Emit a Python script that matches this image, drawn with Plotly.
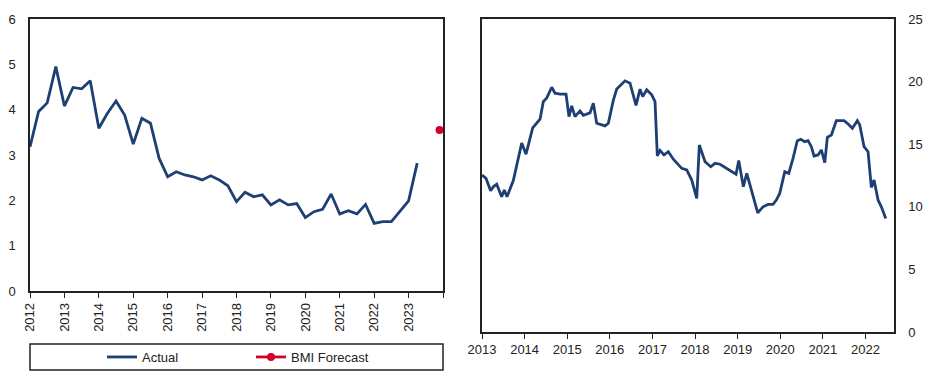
import plotly.graph_objects as go

# ---------------- data ----------------
# Left panel: quarterly actual values, 2012Q1 .. 2023Q2
left_start_year = 2012
left_actual = [3.18, 3.96, 4.15, 4.95, 4.08, 4.49, 4.46, 4.64, 3.59, 3.92,
               4.19, 3.88, 3.24, 3.81, 3.70, 2.93, 2.52, 2.63, 2.56, 2.52,
               2.45, 2.54, 2.45, 2.32, 1.97, 2.18, 2.08, 2.12, 1.90, 2.01,
               1.90, 1.93, 1.62, 1.75, 1.80, 2.14, 1.70, 1.77, 1.70, 1.91,
               1.49, 1.53, 1.53, 1.75, 1.99, 2.82]
left_x = [left_start_year + 0.25 * i for i in range(len(left_actual))]
forecast_x = [2023.9]
forecast_y = [3.55]
left_tickvals = list(range(2012, 2025))
left_ticktext = [str(y) for y in range(2012, 2024)] + [""]

# Right panel: (decimal year, value)
right_x = [2013.000, 2013.094, 2013.204, 2013.265, 2013.345, 2013.462, 2013.523, 2013.587,
           2013.735, 2013.932, 2014.033, 2014.190, 2014.362, 2014.439, 2014.520, 2014.636,
           2014.714, 2014.831, 2014.972, 2015.042, 2015.106, 2015.183, 2015.300, 2015.378,
           2015.535, 2015.613, 2015.692, 2015.887, 2015.965, 2016.082, 2016.162, 2016.357,
           2016.474, 2016.615, 2016.709, 2016.772, 2016.866, 2016.984, 2017.061, 2017.115,
           2017.178, 2017.272, 2017.373, 2017.491, 2017.688, 2017.805, 2017.923, 2018.040,
           2018.101, 2018.235, 2018.369, 2018.469, 2018.587, 2018.744, 2018.899, 2018.962,
           2019.026, 2019.134, 2019.214, 2019.330, 2019.472, 2019.526, 2019.596, 2019.714,
           2019.831, 2019.908, 2019.988, 2020.106, 2020.200, 2020.300, 2020.401, 2020.481,
           2020.575, 2020.653, 2020.730, 2020.793, 2020.887, 2020.965, 2021.045, 2021.106,
           2021.200, 2021.317, 2021.498, 2021.575, 2021.693, 2021.810, 2021.866, 2021.967,
           2022.061, 2022.138, 2022.202, 2022.296, 2022.373, 2022.477]
right_y = [12.54, 12.27, 11.28, 11.60, 11.80, 10.80, 11.34, 10.80,
           12.10, 15.10, 14.20, 16.30, 17.00, 18.40, 18.70, 19.55,
           19.07, 19.00, 19.00, 17.20, 18.06, 17.20, 17.66, 17.30,
           17.50, 18.27, 16.67, 16.46, 16.67, 18.50, 19.40, 20.06,
           19.87, 18.10, 19.40, 18.80, 19.34, 18.94, 18.40, 14.06,
           14.50, 14.14, 14.40, 13.80, 13.07, 12.94, 12.14, 10.67,
           14.94, 13.60, 13.20, 13.47, 13.40, 13.07, 12.72, 12.60,
           13.70, 11.60, 12.67, 11.33, 9.52, 9.74, 10.00, 10.19,
           10.19, 10.54, 11.07, 12.80, 12.67, 13.87, 15.28, 15.39,
           15.20, 15.28, 14.80, 14.06, 14.14, 14.54, 13.52, 15.55,
           15.74, 16.88, 16.88, 16.67, 16.27, 16.88, 16.54, 14.80,
           14.40, 11.55, 12.14, 10.54, 10.00, 9.07]
right_tickvals = list(range(2013, 2023))
right_ticktext = [str(y) for y in range(2013, 2023)]

# ---------------- styling ----------------
W, H = 931, 377
NAVY = "#1d3f73"
RED = "#d4002a"
FONT = "Liberation Sans, Arial, sans-serif"
TXT = "#222222"

def px_x(p):
    return p / W

def px_y(p):
    return 1 - p / H

fig = go.Figure()

fig.add_trace(go.Scatter(x=left_x, y=left_actual, mode="lines", name="Actual",
                         line=dict(color=NAVY, width=2.8), xaxis="x", yaxis="y"))
fig.add_trace(go.Scatter(x=forecast_x, y=forecast_y, mode="lines+markers", name="BMI Forecast",
                         line=dict(color=RED, width=2.8), marker=dict(color=RED, size=8),
                         xaxis="x", yaxis="y", cliponaxis=False))
fig.add_trace(go.Scatter(x=right_x, y=right_y, mode="lines", showlegend=False,
                         line=dict(color=NAVY, width=2.8), xaxis="x2", yaxis="y2"))

axis_common = dict(showgrid=False, zeroline=False, showline=True, linecolor="#222222",
                   linewidth=1.5, mirror=True, automargin=False,
                   tickfont=dict(family=FONT, size=13, color=TXT))

fig.update_layout(
    width=W, height=H,
    margin=dict(l=0, r=0, t=0, b=0, autoexpand=False),
    paper_bgcolor="white", plot_bgcolor="white",
    font=dict(family=FONT, size=13, color=TXT),
    xaxis=dict(domain=[px_x(30), px_x(443)], range=[2012, 2024],
               tickmode="array", tickvals=left_tickvals, ticktext=left_ticktext,
               tickangle=-90, ticks="outside", ticklen=5, tickcolor="#222222",
               anchor="y", **axis_common),
    yaxis=dict(domain=[px_y(291), px_y(19)], range=[0, 6], dtick=1,
               ticks="", ticklabelstandoff=10, anchor="x", **axis_common),
    xaxis2=dict(domain=[px_x(482), px_x(894)], range=[2013, 2022.67],
                tickmode="array", tickvals=right_tickvals, ticktext=right_ticktext,
                ticks="outside", ticklen=5, tickcolor="#222222",
                anchor="y2", **axis_common),
    yaxis2=dict(domain=[px_y(332), px_y(19)], range=[0, 25], dtick=5,
                side="right", ticks="", ticklabelstandoff=10, anchor="x2", **axis_common),
    showlegend=True,
    legend=dict(orientation="h", x=px_x(102), y=px_y(357), xanchor="left", yanchor="middle",
                entrywidth=104, entrywidthmode="pixels", bgcolor="rgba(0,0,0,0)",
                font=dict(family=FONT, size=13, color=TXT), itemwidth=30),
    shapes=[dict(type="rect", xref="paper", yref="paper",
                 x0=px_x(30), x1=px_x(443), y0=px_y(370), y1=px_y(344),
                 line=dict(color="#222222", width=1.5))],
)

fig.write_html("out.html", config={"displayModeBar": False},
               post_script="document.body.style.margin='0';document.body.style.padding='0';")
